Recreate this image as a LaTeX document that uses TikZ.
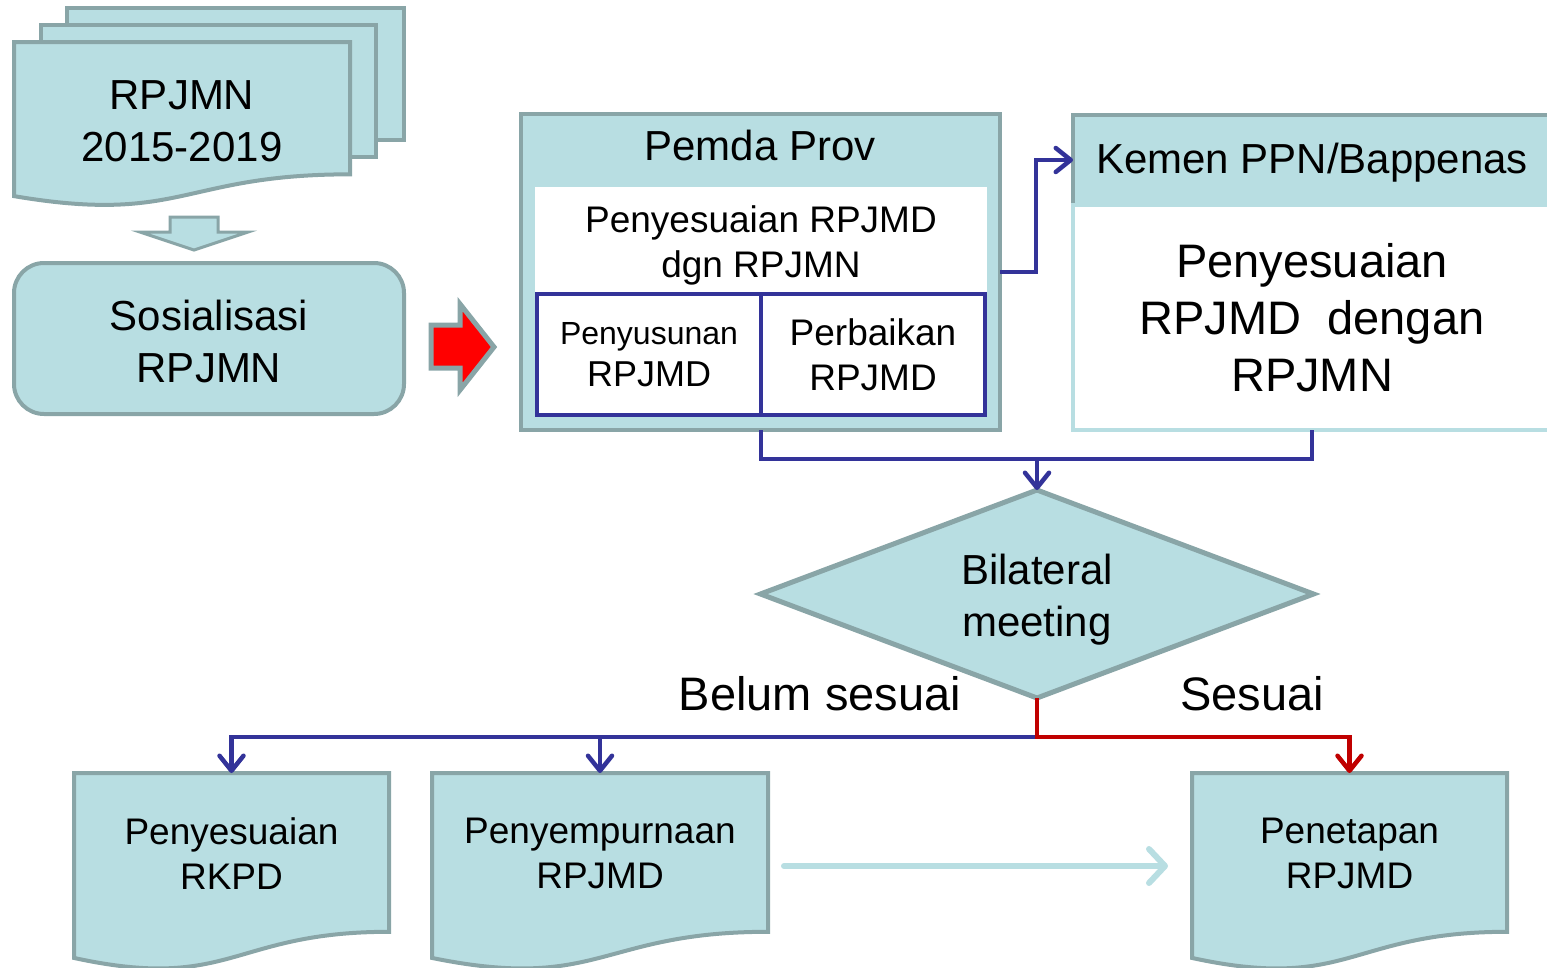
\documentclass[tikz,border=0pt]{standalone}
\usepackage{fontspec}
\setmainfont{Liberation Sans}
\usetikzlibrary{arrows.meta,shapes.geometric,calc}
\definecolor{tealfill}{RGB}{184,222,226}
\definecolor{tealedge}{RGB}{137,165,167}
\definecolor{navy}{RGB}{51,51,153}
\definecolor{darkred}{RGB}{192,0,0}
\newcommand\mydocpath[1]{%
  \draw[box] (#1.north west) -- (#1.north east)
    -- ($(#1.north east)!0.802!(#1.south east)$)
    .. controls ($(#1.north)!0.802!(#1.south)$) and ($(#1.north)!1.107!(#1.south)$)
    .. ($(#1.north west)!0.934!(#1.south west)$) -- cycle;}
\begin{document}
\begin{tikzpicture}[x=1pt,y=-1pt,
  box/.style={draw=tealedge,fill=tealfill,line width=4pt},
  sized/.style 2 args={inner sep=0pt,outer sep=0pt,minimum width=#1pt,minimum height=#2pt},
  bluebox/.style={draw=navy,fill=white,line width=4.5pt},
  t42/.style={align=center,font=\fontsize{42}{52}\selectfont},
  t37/.style={align=center,font=\fontsize{37}{45}\selectfont},
  t47/.style={align=center,font=\fontsize{47}{57}\selectfont},
  blueline/.style={draw=navy,line width=4.5pt},
  redline/.style={draw=darkred,line width=4.5pt},
  tip/.style={-{Straight Barb[length=15pt,width=24pt,round]}},
  lightline/.style={draw=tealfill,line width=6pt,line cap=round,-{Straight Barb[length=16pt,width=34pt,round]}},
  blockarrow/.style={draw=tealedge,fill=tealfill,line width=3pt,line join=miter},
  redblock/.style={draw=tealedge,fill=red,line width=5pt,line join=miter}
]
\useasboundingbox (0,0) rectangle (1547,967);

% stacked documents
\node[box,sized={337}{132}] (back) at (235.5,74) {};
\node[box,sized={335}{132}] (middle) at (208.5,91) {};
\node[sized={336}{165}] (rpjmn) at (182,124.5) {};
\mydocpath{rpjmn}
\node[t42] (rpjmntxt) at (182,121) {RPJMN\\2015-2019};

% down block arrow
\draw[blockarrow] (170,217) -- (218,217) -- (218,232) -- (248,232) -- (194,250)
  -- (140,232) -- (170,232) -- cycle;

% sosialisasi
\node[box,rounded corners=30pt,sized={390}{151}] (sos) at (209,338.5) {};
\node[t42] (sostxt) at (209,341.5) {Sosialisasi\\RPJMN};

% red block arrow
\draw[redblock] (431,325) -- (460,325) -- (460,304) -- (494,347) -- (460,390)
  -- (460,368) -- (431,368) -- cycle;

% Pemda Prov
\node[box,sized={479}{316}] (pemda) at (760.5,272) {};
\node[t42] (pemdatitle) at (760,145.5) {Pemda Prov};
\node[fill=white,sized={452}{116},t37] (penyrpjmd) at (761,245) {Penyesuaian RPJMD\\dgn RPJMN};
\node[bluebox,sized={224}{121},align=center,font=\fontsize{36}{42}\selectfont] (penyusunan) at (649,354.5)
  {{\fontsize{32}{42}\selectfont Penyusunan}\\RPJMD};
\node[bluebox,sized={224}{121},t37] (perbaikan) at (873,354.5) {Perbaikan\\RPJMD};

% Kemen PPN/Bappenas
\node[box,sized={478}{90}] (kemen) at (1312,160) {};
\node[t42] (kementxt) at (1312,163) {Kemen PPN/Bappenas};
\node[fill=white,draw=tealfill,line width=4pt,sized={478}{225},t47] (kemenbody) at (1312,317.5)
  {Penyesuaian\\RPJMD\ \ dengan\\RPJMN};

% diamond
\node[box,diamond,shape aspect=2.66,line width=5pt,sized={553}{208}] (bilateral) at (1037,594) {};
\node[t42] (bilateraltxt) at (1037,600) {Bilateral\\meeting};

% labels
\node[t47] (belum) at (820,694) {Belum sesuai};
\node[t47] (sesuai) at (1252,694) {Sesuai};

% bottom documents
\node[sized={315}{198}] (rkpd) at (231.5,872) {};
\mydocpath{rkpd}
\node[t37] (rkpdtxt) at (231.5,853.5) {Penyesuaian\\RKPD};
\node[sized={336}{198}] (penyem) at (600,872) {};
\mydocpath{penyem}
\node[t37] (penyemtxt) at (600,853.5) {Penyempurnaan\\RPJMD};
\node[sized={315}{198}] (penetapan) at (1349.5,872) {};
\mydocpath{penetapan}
\node[t37] (penetapantxt) at (1349.5,853.5) {Penetapan\\RPJMD};

% connectors
\coordinate (merge) at (1037,459);
\coordinate (split) at (1037,737);
\draw[blueline,tip] (pemda.east) -- ++(36,0) |- (kemen.west);
\draw[blueline] (penyusunan.south east |- pemda.south) |- (merge);
\draw[blueline] (kemenbody.south) |- (merge);
\draw[blueline,tip] (merge) -- (bilateral.north);
\draw[blueline,tip] (split) -| (rkpd.north);
\draw[blueline,tip] (split) -| (penyem.north);
\draw[redline,tip] (bilateral.south) -- (split) -| (penetapan.north);
\draw[lightline] ([xshift=16pt,yshift=6pt]penyem.east) -- ([xshift=-24pt,yshift=6pt]penetapan.west);
\end{tikzpicture}
\end{document}
